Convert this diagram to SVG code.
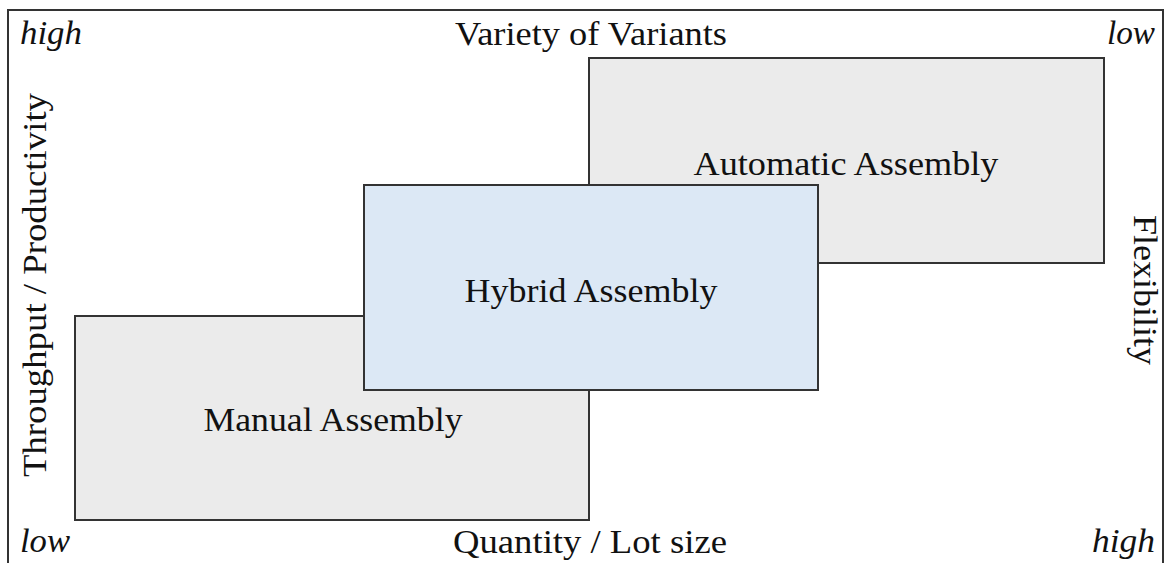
<svg xmlns="http://www.w3.org/2000/svg" width="1167" height="563" viewBox="0 0 1167 563">
<style>
.box{stroke:#333;stroke-width:2}
.gray{fill:#ebebeb}
.blue{fill:#dce8f5}
text{font-family:"Liberation Serif","DejaVu Serif",serif;fill:#111;font-size:34px}
.it{font-style:italic}
.mid{text-anchor:middle}
</style>
<rect x="0" y="0" width="1167" height="563" fill="#fff"/>
<g id="frame"><rect x="8" y="10" width="1155" height="560" fill="none" stroke="#333" stroke-width="2"/></g>
<g id="manual"><rect class="box gray" x="75" y="316" width="514" height="204"/><text class="mid" x="333" y="431" textLength="259" lengthAdjust="spacingAndGlyphs">Manual Assembly</text></g>
<g id="automatic"><rect class="box gray" x="589" y="58" width="515" height="205"/><text class="mid" x="846" y="175" textLength="305" lengthAdjust="spacingAndGlyphs">Automatic Assembly</text></g>
<g id="hybrid"><rect class="box blue" x="364" y="185" width="454" height="205"/><text class="mid" x="591" y="302" textLength="253" lengthAdjust="spacingAndGlyphs">Hybrid Assembly</text></g>
<g id="connectors"></g>
<g id="labels">
<text class="it" x="20" y="44" textLength="62" lengthAdjust="spacingAndGlyphs">high</text>
<text class="mid" x="591" y="45" textLength="272" lengthAdjust="spacingAndGlyphs">Variety of Variants</text>
<text class="it" x="1107" y="44" textLength="48" lengthAdjust="spacingAndGlyphs">low</text>
<text class="it" x="20" y="552" textLength="50" lengthAdjust="spacingAndGlyphs">low</text>
<text class="mid" x="590" y="553" textLength="274" lengthAdjust="spacingAndGlyphs">Quantity / Lot size</text>
<text class="it" x="1092" y="552" textLength="63" lengthAdjust="spacingAndGlyphs">high</text>
<text class="mid" transform="translate(46,285) rotate(-90)" textLength="384" lengthAdjust="spacingAndGlyphs">Throughput / Productivity</text>
<text class="mid" transform="translate(1134,290) rotate(90)" textLength="150" lengthAdjust="spacingAndGlyphs">Flexibility</text>
</g>
</svg>
